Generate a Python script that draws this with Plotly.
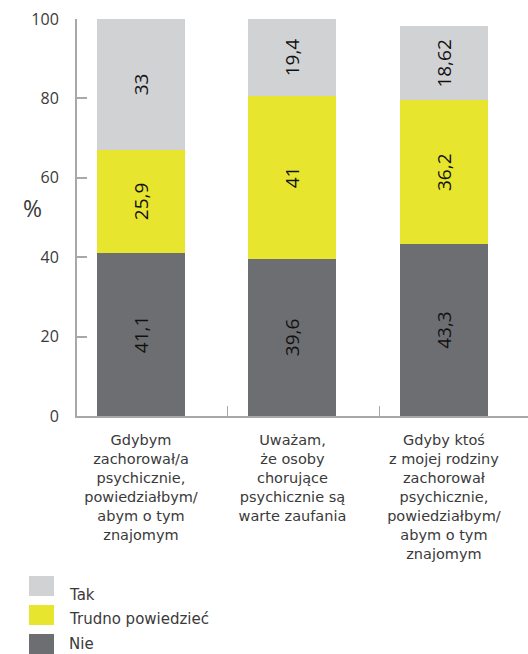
import plotly.graph_objects as go

categories = [
    "Gdybym<br>zachorował/a<br>psychicznie,<br>powiedziałbym/<br>abym o tym<br>znajomym",
    "Uważam,<br>że osoby<br>chorujące<br>psychicznie są<br>warte zaufania",
    "Gdyby ktoś<br>z mojej rodziny<br>zachorował<br>psychicznie,<br>powiedziałbym/<br>abym o tym<br>znajomym",
]
nie = [41.1, 39.6, 43.3]
trudno = [25.9, 41, 36.2]
tak = [33, 19.4, 18.62]
nie_txt = ["41,1", "39,6", "43,3"]
trudno_txt = ["25,9", "41", "36,2"]
tak_txt = ["33", "19,4", "18,62"]

series = [
    ("Nie", nie, nie_txt, "#6d6e72"),
    ("Trudno powiedzieć", trudno, trudno_txt, "#e8e52f"),
    ("Tak", tak, tak_txt, "#d1d2d4"),
]

TEXT_FONT = "DejaVu Sans"
NUM_FONT = "Open Sans"
AXIS = "#a7a8ab"
INK = "#3a3a3a"
xpos = list(range(len(categories)))

fig = go.Figure()
for name, vals, txt, col in series:
    fig.add_trace(go.Bar(
        x=xpos, y=vals, name=name, text=txt,
        marker=dict(color=col, line=dict(width=0)),
        width=0.581,
        textposition="inside", insidetextanchor="middle", textangle=-90,
        textfont=dict(family=NUM_FONT, size=19, color="#111111"),
        showlegend=False, hoverinfo="skip",
    ))

fig.update_layout(
    width=528, height=654,
    margin=dict(l=77, r=0, t=19, b=238),
    barmode="stack",
    plot_bgcolor="white", paper_bgcolor="white",
    font=dict(family=TEXT_FONT, size=15, color=INK),
)
fig.update_xaxes(
    range=[-0.4224, 2.555],
    tickvals=xpos, ticktext=categories, ticks="",
    showline=True, linecolor=AXIS, linewidth=2,
    showgrid=False, zeroline=False,
    tickfont=dict(family=TEXT_FONT, size=14.5, color=INK),
    ticklabelstandoff=10,
    minor=dict(tickmode="array", tickvals=[0.574, 1.572], ticks="inside",
               ticklen=10, tickcolor=AXIS, tickwidth=1, showgrid=False),
)
fig.update_yaxes(
    range=[0, 100], tickvals=[0, 20, 40, 60, 80, 100],
    ticks="inside", ticklen=10, tickcolor=AXIS, tickwidth=2,
    showline=True, linecolor=AXIS, linewidth=2,
    showgrid=False, zeroline=False,
    tickfont=dict(family=NUM_FONT, size=16, color=INK),
    ticklabelstandoff=13,
)

# "%" axis caption
fig.add_annotation(text="%", xref="paper", yref="paper",
                   x=-0.124, y=0.525, showarrow=False,
                   font=dict(family=NUM_FONT, size=23, color=INK))

# Legend: swatches and labels stacked below the plot
legend_items = [("Tak", "#d1d2d4"), ("Trudno powiedzieć", "#e8e52f"), ("Nie", "#6d6e72")]
label_centers = [595, 619, 644]
H = 654
for i, (name, col) in enumerate(legend_items):
    top = 576 + 29 * i
    fig.add_shape(type="rect", xref="paper", yref="paper",
                  x0=(29 - 77) / 451, x1=(54 - 77) / 451,
                  y0=(H - 238 - (top + 20)) / 397, y1=(H - 238 - top) / 397,
                  fillcolor=col, line=dict(width=0))
    fig.add_annotation(text=name, xref="paper", yref="paper",
                       x=(67 - 77) / 451, y=(H - 238 - label_centers[i]) / 397,
                       xanchor="left", yanchor="middle", showarrow=False,
                       font=dict(family=TEXT_FONT, size=15, color=INK))

fig.write_html("out.html")
